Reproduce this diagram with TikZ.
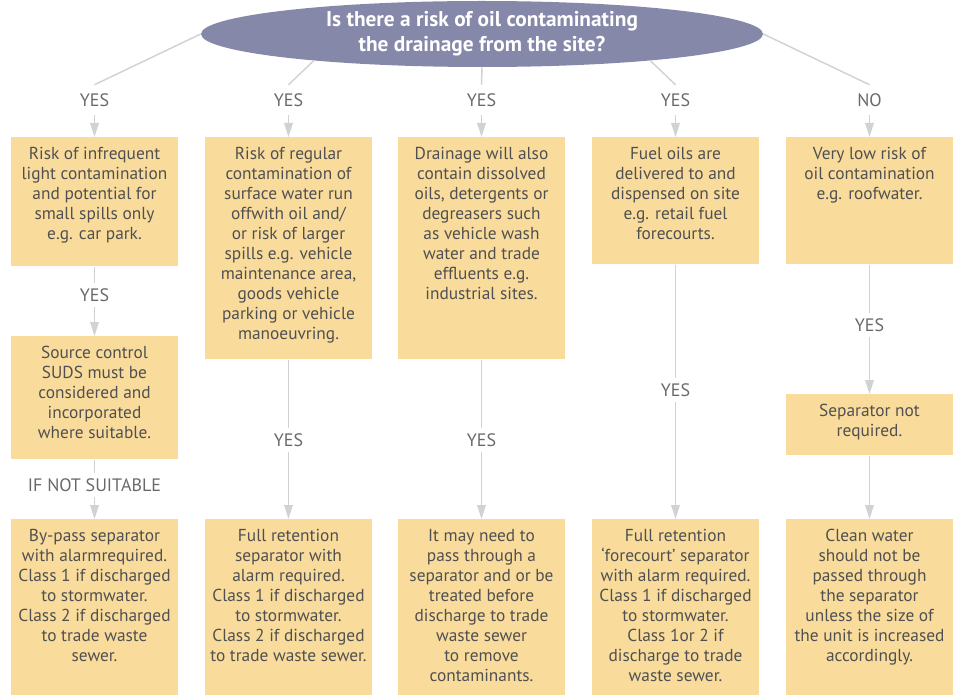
\documentclass[tikz,border=0pt]{standalone}
\usepackage{fontspec}
\setmainfont{PT Sans}
\usetikzlibrary{shapes.geometric,arrows.meta}
\definecolor{boxc}{HTML}{F9DC9B}
\definecolor{ellc}{HTML}{8588A9}
\definecolor{txtc}{HTML}{505052}
\definecolor{labc}{HTML}{68696C}
\definecolor{linec}{HTML}{D1D2D4}
\tikzset{
  box/.style={fill=boxc, draw=none, inner sep=0pt, anchor=north,
              minimum width=125.25pt, minimum height=#1*0.75pt},
  txt/.style={align=center, text=txtc, inner sep=0pt, anchor=north,
              font=\fontsize{13}{15}\selectfont},
  lab/.style={text=labc, inner sep=0pt, minimum height=18pt,
              font=\fontsize{13.5}{15}\selectfont},
  toplab/.style={lab, minimum height=22.5pt},
  conn/.style={draw=linec, line width=1.1pt},
  arr/.style={conn, -{Triangle[length=10.5pt,width=6.5pt]}},
  ell/.style={ellipse, fill=ellc, draw=none, inner sep=0pt,
              minimum width=421.5pt, minimum height=49.5pt,
              text=white, align=center,
              font=\fontsize{16}{18.75}\selectfont\bfseries}
}
\begin{document}
\begin{tikzpicture}[x=0.75pt,y=-0.75pt]
\useasboundingbox (0,0) rectangle (960,695);

% question
\node[ell] (q) at (482,34) {Is there a risk of oil contaminating\\the drainage from the site?};

% top labels
\node[toplab] (l1) at (94.5,100) {YES};
\node[toplab] (l2) at (288.5,100) {YES};
\node[toplab] (l3) at (481.5,100) {YES};
\node[toplab] (l4) at (675.5,100) {YES};
\node[toplab] (l5) at (869.5,100) {NO};

% boxes
\node[box=129] (b11) at (94.5,137) {};
\node[box=123] (b12) at (94.5,336) {};
\node[box=176] (b13) at (94.5,519) {};
\node[box=222] (b21) at (288.5,137) {};
\node[box=176] (b23) at (288.5,519) {};
\node[box=222] (b31) at (481.5,137) {};
\node[box=176] (b33) at (481.5,519) {};
\node[box=127] (b41) at (675.5,137) {};
\node[box=176] (b43) at (675.5,519) {};
\node[box=127] (b51) at (869.5,137) {};
\node[box=61]  (b52) at (869.5,394) {};
\node[box=176] (b53) at (869.5,519) {};

% box texts
\node[txt] (t11) at ([yshift=-7.5pt]b11.north) {Risk of infrequent\\light contamination\\and potential for\\small spills only\\e.g. car park.};
\node[txt] (t12) at ([yshift=-7.5pt]b12.north) {Source control\\SUDS must be\\considered and\\incorporated\\where suitable.};
\node[txt] (t13) at ([yshift=-7.5pt]b13.north) {By-pass separator\\with alarmrequired.\\Class 1 if discharged\\to stormwater.\\Class 2 if discharged\\to trade waste\\sewer.};
\node[txt] (t21) at ([yshift=-7.5pt]b21.north) {Risk of regular\\contamination of\\surface water run\\offwith oil and/\\or risk of larger\\spills e.g. vehicle\\maintenance area,\\goods vehicle\\parking or vehicle\\manoeuvring.};
\node[txt] (t23) at ([yshift=-7.5pt]b23.north) {Full retention\\separator with\\alarm required.\\Class 1 if discharged\\to stormwater.\\Class 2 if discharged\\to trade waste sewer.};
\node[txt] (t31) at ([yshift=-7.5pt]b31.north) {Drainage will also\\contain dissolved\\oils, detergents or\\degreasers such\\as vehicle wash\\water and trade\\effluents e.g.\\industrial sites.};
\node[txt] (t33) at ([yshift=-7.5pt]b33.north) {It may need to\\pass through a\\separator and or be\\treated before\\discharge to trade\\waste sewer\\to remove\\contaminants.};
\node[txt] (t41) at ([yshift=-7.5pt]b41.north) {Fuel oils are\\delivered to and\\dispensed on site\\e.g. retail fuel\\forecourts.};
\node[txt] (t43) at ([yshift=-7.5pt]b43.north) {Full retention\\‘forecourt’ separator\\with alarm required.\\Class 1 if discharged\\to stormwater.\\Class 1or 2 if\\discharge to trade\\waste sewer.};
\node[txt] (t51) at ([yshift=-7.5pt]b51.north) {Very low risk of\\oil contamination\\e.g. roofwater.};
\node[txt] (t52) at ([yshift=-7.5pt]b52.north) {Separator not\\required.};
\node[txt] (t53) at ([yshift=-7.5pt]b53.north) {Clean water\\should not be\\passed through\\the separator\\unless the size of\\the unit is increased\\accordingly.};

% middle labels
\node[lab] (m1)  at (94.5,295) {YES};
\node[lab] (m1b) at (94.5,485) {IF NOT SUITABLE};
\node[lab] (m2)  at (288.5,440) {YES};
\node[lab] (m3)  at (481.5,440) {YES};
\node[lab] (m4)  at (675.5,390) {YES};
\node[lab] (m5)  at (869.5,325) {YES};

% connectors from question
\draw[conn] (q.west) -- (l1.north);
\draw[conn] (q.189.4) -- (l2.north);
\draw[conn] (q.south) -- (l3.north);
\draw[conn] (q.351.45) -- (l4.north);
\draw[conn] (q.east) -- (l5.north);

% arrows to first boxes
\draw[arr] (l1) -- (b11);
\draw[arr] (l2) -- (b21);
\draw[arr] (l3) -- (b31);
\draw[arr] (l4) -- (b41);
\draw[arr] (l5) -- (b51);

% column 1
\draw[conn] (b11) -- (m1);
\draw[arr] (m1) -- (b12);
\draw[conn] (b12) -- (m1b);
\draw[arr] (m1b) -- (b13);
% column 2
\draw[conn] (b21) -- (m2);
\draw[arr] (m2) -- (b23);
% column 3
\draw[conn] (b31) -- (m3);
\draw[arr] (m3) -- (b33);
% column 4
\draw[conn] (b41) -- (m4);
\draw[arr] (m4) -- (b43);
% column 5
\draw[conn] (b51) -- (m5);
\draw[arr] (m5) -- (b52);
\draw[arr] (b52) -- (b53);
\end{tikzpicture}
\end{document}
